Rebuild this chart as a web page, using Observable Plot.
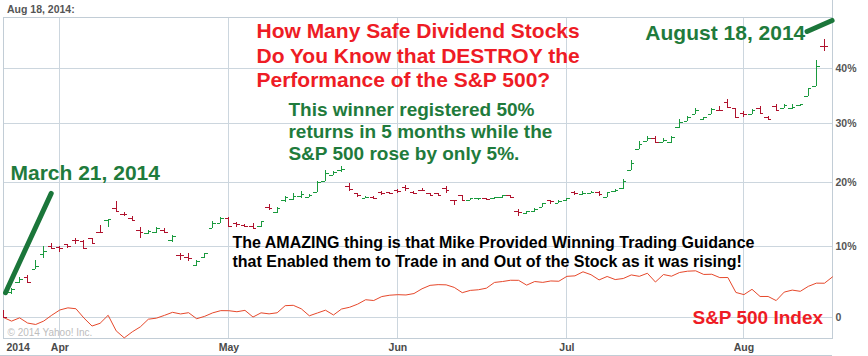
<!DOCTYPE html>
<html><head><meta charset="utf-8">
<script src="https://cdn.jsdelivr.net/npm/d3@7"></script>
<script src="https://cdn.jsdelivr.net/npm/@observablehq/plot@0.6"></script>
<style>body{margin:0;background:#fff}svg{display:block}</style>
</head><body><div id="chart"></div>
<script>
// Trading days shown on the chart (Mar 21 – Aug 18, 2014)
const tradingDays = [
 "2014-03-21","2014-03-24","2014-03-25","2014-03-26","2014-03-27","2014-03-28","2014-03-31",
 "2014-04-01","2014-04-02","2014-04-03","2014-04-04","2014-04-07","2014-04-08","2014-04-09","2014-04-10","2014-04-11",
 "2014-04-14","2014-04-15","2014-04-16","2014-04-17","2014-04-21","2014-04-22","2014-04-23","2014-04-24","2014-04-25",
 "2014-04-28","2014-04-29","2014-04-30",
 "2014-05-01","2014-05-02","2014-05-05","2014-05-06","2014-05-07","2014-05-08","2014-05-09","2014-05-12","2014-05-13",
 "2014-05-14","2014-05-15","2014-05-16","2014-05-19","2014-05-20","2014-05-21","2014-05-22","2014-05-23","2014-05-27",
 "2014-05-28","2014-05-29","2014-05-30",
 "2014-06-02","2014-06-03","2014-06-04","2014-06-05","2014-06-06","2014-06-09","2014-06-10","2014-06-11","2014-06-12",
 "2014-06-13","2014-06-16","2014-06-17","2014-06-18","2014-06-19","2014-06-20","2014-06-23","2014-06-24","2014-06-25",
 "2014-06-26","2014-06-27","2014-06-30",
 "2014-07-01","2014-07-02","2014-07-03","2014-07-07","2014-07-08","2014-07-09","2014-07-10","2014-07-11","2014-07-14",
 "2014-07-15","2014-07-16","2014-07-17","2014-07-18","2014-07-21","2014-07-22","2014-07-23","2014-07-24","2014-07-25",
 "2014-07-28","2014-07-29","2014-07-30","2014-07-31",
 "2014-08-01","2014-08-04","2014-08-05","2014-08-06","2014-08-07","2014-08-08","2014-08-11","2014-08-12","2014-08-13",
 "2014-08-14","2014-08-15","2014-08-18"
];

// Stock, % change vs Mar 21 close (open / high / low / close)
const stockOpen = [0.7,3.4,4.9,5.5,6.7,8.9,10.1,9.9,10.4,11.0,10.8,11.2,12.2,14.0,15.9,15.0,14.3,12.5,12.0,12.1,
 12.5,10.9,8.8,8.5,7.3,8.5,12.8,13.6,14.3,13.5,13.3,13.1,13.1,16.1,15.2,17.1,17.3,17.8,17.6,18.4,
 20.1,21.2,21.9,19.4,18.2,17.5,17.6,18.4,18.4,18.7,19.2,18.4,18.8,18.3,18.2,19.1,17.2,17.9,17.2,17.4,
 17.4,17.4,17.6,17.9,15.4,15.1,15.4,16.1,17.1,16.7,17.1,18.4,18.1,18.3,18.4,17.6,18.5,19.1,22.0,25.5,
 26.9,27.3,26.6,26.7,29.2,30.4,31.6,30.6,31.6,32.3,33.8,32.7,31.7,31.6,32.7,31.1,33.0,32.7,32.7,33.1,
 34.8,36.7,44.3];
const stockHigh = [1.0,4.0,5.6,5.9,8.0,10.0,10.5,10.0,10.4,11.3,10.9,11.3,13.3,14.1,17.0,15.3,14.6,13.0,12.5,13.0,
 12.8,11.7,9.0,9.0,8.0,9.0,13.8,14.5,14.5,13.7,13.4,13.6,13.9,16.5,16.0,17.8,18.3,18.5,18.1,20.1,
 21.9,21.8,22.6,19.8,18.3,17.7,17.7,18.5,18.4,18.9,19.6,18.5,19.0,18.3,18.3,19.3,17.2,18.0,17.5,17.5,
 17.5,17.6,18.0,18.0,15.7,15.4,15.8,16.7,17.2,17.1,17.4,18.5,18.5,18.6,18.5,18.4,18.9,20.5,23.7,26.8,
 27.7,27.7,27.4,27.7,30.6,31.2,32.7,31.1,32.7,33.0,34.2,32.7,32.1,32.4,33.0,31.2,33.3,33.3,33.3,33.4,
 36.3,41.6,45.7];
const stockLow = [0.0,3.2,4.7,4.8,6.7,8.3,9.6,9.2,9.8,10.3,9.7,10.5,12.1,13.0,15.3,14.6,13.8,11.2,11.9,12.0,
 12.1,10.7,8.0,7.8,7.1,8.3,12.8,13.5,13.1,13.0,13.0,12.7,13.0,15.6,15.1,16.8,17.2,17.5,17.6,18.4,
 20.1,21.1,21.7,18.5,17.6,17.4,17.4,18.0,18.1,18.3,18.5,18.1,18.5,17.8,18.0,18.3,16.4,17.2,17.2,17.2,
 17.2,17.3,17.5,17.5,14.7,15.0,15.3,16.1,16.5,16.6,17.0,18.0,18.0,18.2,17.8,17.6,18.4,18.9,22.0,25.5,
 26.8,26.6,26.6,26.5,29.1,30.3,31.5,30.5,31.5,32.1,32.7,31.0,31.0,31.5,31.5,30.5,32.1,32.7,32.4,33.0,
 34.8,36.7,43.2];
const stockClose = [0.0,3.9,5.3,4.8,7.1,9.4,9.8,9.8,10.0,10.9,9.8,10.5,12.1,14.1,15.4,14.9,14.0,12.1,12.3,12.8,
 12.2,11.5,8.7,8.3,7.8,9.0,13.5,14.3,13.1,13.4,13.1,12.8,13.8,15.9,15.9,17.6,17.8,18.1,17.9,20.0,
 21.5,21.6,22.1,18.9,18.0,17.6,17.5,18.2,18.2,18.5,19.0,18.2,18.7,18.0,18.0,18.8,17.1,17.2,17.4,17.45,
 17.3,17.6,17.9,17.6,15.2,15.4,15.7,16.6,17.0,17.0,17.4,18.3,18.3,18.4,18.1,18.4,18.8,20.1,23.1,26.4,
 27.4,26.7,27.0,27.5,30.2,31.0,32.2,31.0,32.4,32.2,32.8,31.0,31.5,32.2,31.8,30.7,32.3,33.1,32.9,33.4,
 36.2,40.4,44.2];

// S&P 500 Index, % change vs Mar 21
const spx = [0,-0.49,-0.05,-0.75,-0.94,-0.48,0.31,1.02,1.31,1.19,-0.08,-1.15,-0.78,0.30,-1.79,-2.72,-1.92,-1.26,-0.23,-0.09,
 0.29,0.70,0.48,0.65,-0.17,0.16,0.63,0.93,0.92,0.78,0.97,0.06,0.63,0.49,0.64,1.61,1.66,1.18,0.23,0.61,
 0.99,0.34,1.15,1.39,1.82,2.43,2.32,2.87,3.06,3.13,3.09,3.29,3.96,4.44,4.54,4.51,4.15,3.41,3.73,3.82,
 4.04,4.85,4.98,5.16,5.15,4.47,4.98,4.86,5.06,5.02,5.72,5.79,6.37,5.95,5.21,5.70,5.26,5.41,5.92,5.72,
 6.16,4.91,5.98,5.74,6.27,6.46,6.51,5.99,6.02,5.54,5.55,3.44,3.14,3.88,2.88,2.88,2.31,3.49,3.77,3.60,
 4.30,4.75,4.74,5.64];

// Right-axis tick values (%) and labels
const yTicks = [0, 10, 20, 30, 40];
const yTickLabels = ["0", "10%", "20%", "30%", "40%"];
const headerLabel = "Aug 18, 2014:";
const yearLabel = "2014";

// Annotations (position: trading-day index, % value of baseline)
const noteTexts = [
  "How Many Safe Dividend Stocks\nDo You Know that DESTROY the\nPerformance of the S&P 500?",
  "August 18, 2014",
  "March 21, 2014",
  "This winner registered 50%\nreturns in 5 months while the\nS&P 500 rose by only 5%.",
  "The AMAZING thing is that Mike Provided Winning Trading Guidance\nthat Enabled them to Trade in and Out of the Stock as it was rising!",
  "S&P 500 Index"
];
const noteDay = [31.43, 79.75, 0.87, 35.4, 28.45, 85.6];
const notePct = [36.5, 45.5, 20.4, 23.8, 7.0, -0.94];
const noteColor = ["#ee1c25", "#1f7b3c", "#1f7b3c", "#1f7b3c", "#000000", "#ee1c25"];
const noteSize = [21, 21, 21, 19, 16, 19];
const noteLineHeight = [1.167, 1, 1, 1.14, 1.22, 1];
const copyright = "© 2014 Yahoo! Inc.";

// Hand-drawn arrows (day index, %)
const arrowFrom = [[0.25, 3.4], [99.84, 47.2]];
const arrowTo = [[5.93, 18.26], [102.95, 49.4]];

// ---------- build tables ----------
const g = p => 1 + p / 100;
const bars = stockOpen.map((o, i) => ({i, open: o, high: stockHigh[i], low: stockLow[i], close: stockClose[i]}));
const spxData = spx.map((v, i) => ({i, v}));
const parse = d3.utcParse("%Y-%m-%d");
const days = tradingDays.map(parse);
const monthTicks = days.map((d, i) => i).filter(i => i > 0 && days[i].getUTCMonth() !== days[i - 1].getUTCMonth());
const monthFmt = d3.utcFormat("%b");
const notes = noteTexts.map((t, k) => ({t, x: noteDay[k], y: g(notePct[k]), c: noteColor[k], s: noteSize[k], lh: noteLineHeight[k]}));
const arrows = arrowFrom.map((a, k) => ({x1: a[0], y1: g(a[1]), x2: arrowTo[k][0], y2: g(arrowTo[k][1])}));

const GREEN = "#1a9a3e", RED = "#b0122d", GRID = "#ccd6de", FRAME = "#c2cdd6";
const barColor = d => d.close >= d.open ? GREEN : RED;
const font = "'Liberation Sans', Arial, sans-serif";

const noteMarks = notes.map(n => Plot.text([n], {
  x: "x", y: "y", text: "t", fill: n.c, fontSize: n.s, fontWeight: "bold",
  textAnchor: "start", lineAnchor: "bottom", lineHeight: n.lh, fontFamily: font
}));

const chart = Plot.plot({
  width: 868, height: 356,
  marginTop: 17, marginBottom: 18, marginLeft: 3, marginRight: 36,
  style: {fontFamily: font, background: "#fff", overflow: "visible"},
  x: {type: "linear", domain: [0, tradingDays.length - 1], axis: null},
  y: {type: "log", domain: [0.972, 1.5], axis: null},
  marks: [
    Plot.gridY(yTicks.map(g), {stroke: GRID, strokeOpacity: 1, shapeRendering: "crispEdges"}),
    Plot.gridX(monthTicks, {stroke: GRID, strokeOpacity: 1, shapeRendering: "crispEdges"}),
    Plot.frame({stroke: FRAME, shapeRendering: "crispEdges"}),
    Plot.ruleX([tradingDays.length - 1], {stroke: FRAME, insetTop: -17, shapeRendering: "crispEdges"}),
    Plot.ruleY([0.972], {stroke: FRAME, dy: 17, insetLeft: -3, shapeRendering: "crispEdges"}),
    Plot.axisY(yTicks.map(g), {anchor: "right", tickSize: 0, tickPadding: 3, fontSize: 10.5, fontWeight: "bold",
      color: "#555", tickFormat: v => yTickLabels[yTicks.indexOf(Math.round((v - 1) * 100))]}),
    Plot.axisX(monthTicks, {anchor: "bottom", tickSize: 0, tickPadding: 5, fontSize: 10.5, fontWeight: "bold",
      color: "#4a4a4a", tickFormat: i => monthFmt(days[i])}),
    Plot.axisX([0], {anchor: "bottom", tickSize: 0, tickPadding: 5, fontSize: 10.5, fontWeight: "bold",
      color: "#4a4a4a", textAnchor: "start", dx: 3, tickFormat: () => yearLabel}),
    Plot.text([headerLabel], {frameAnchor: "top-left", dx: 3.5, dy: -4.5, lineAnchor: "bottom", textAnchor: "start",
      fontSize: 10.5, fontWeight: "bold", fill: "#555"}),
    Plot.text([copyright], {x: () => 0.5, y: () => g(-2.41), textAnchor: "start", lineAnchor: "bottom",
      fontSize: 10, fill: "#bdbdbd"}),
    Plot.line(spxData, {x: "i", y: d => g(d.v), stroke: "#e6482b", strokeWidth: 1}),
    Plot.ruleX(bars, {x: "i", y1: d => g(d.low), y2: d => g(d.high), stroke: barColor, clip: true, shapeRendering: "crispEdges"}),
    Plot.ruleY(bars, {y: d => g(d.open), x1: d => d.i - 0.45, x2: "i", stroke: barColor, clip: true, shapeRendering: "crispEdges"}),
    Plot.ruleY(bars, {y: d => g(d.close), x1: "i", x2: d => d.i + 0.45, stroke: barColor, clip: true, shapeRendering: "crispEdges"}),
    ...noteMarks,
    Plot.link(arrows, {x1: "x1", y1: "y1", x2: "x2", y2: "y2", stroke: "#1b763a", strokeWidth: 5, strokeLinecap: "round"})
  ]
});
document.getElementById("chart").appendChild(chart);
</script></body></html>
